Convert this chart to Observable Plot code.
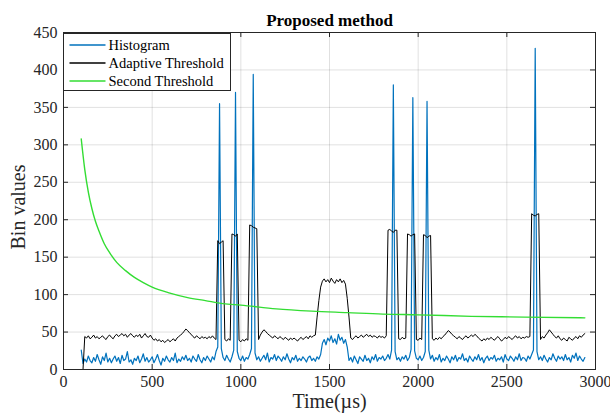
<!DOCTYPE html>
<html>
<head>
<meta charset="utf-8">
<script src="https://cdn.jsdelivr.net/npm/d3@7"></script>
<script src="https://cdn.jsdelivr.net/npm/@observablehq/plot@0.6"></script>
<style>
  html, body { margin: 0; padding: 0; background: #fff; }
  #chart svg, #chart svg text { font-family: 'Liberation Serif', 'Times New Roman', serif !important; }
</style>
</head>
<body>
<div id="chart"></div>
<script>
// ---- Data ----
const titleText = "Proposed method";
const xLabel = "Time(\u00b5s)";
const yLabel = "Bin values";
const seriesNames = ["Histogram", "Adaptive Threshold", "Second Threshold"];

const xTicks = [0, 500, 1000, 1500, 2000, 2500, 3000];
const yTicks = [0, 50, 100, 150, 200, 250, 300, 350, 400, 450];

// Histogram: sampled every 10 µs starting at 100 µs
const histStart = 100, histStep = 10;
const histValues = [
  26, 8, 14, 10, 18, 12, 9, 16, 11, 20,
  13, 7, 17, 12, 22, 10, 15, 9, 14, 18,
  11, 16, 8, 19, 12, 14, 24, 10, 13, 7,
  15, 12, 18, 9, 14, 21, 11, 16, 10, 13,
  17, 9, 14, 20, 12, 6, 15, 11, 18, 13,
  10, 16, 12, 22, 9, 14, 11, 17, 13, 19,
  12, 15, 10, 18, 14, 11, 20, 13, 9, 16,
  12, 18, 14, 10, 17, 13, 24, 30, 355, 28,
  16, 12, 19, 14, 10, 17, 26, 370, 24, 15,
  12, 18, 11, 16, 14, 20, 28, 394, 22, 13,
  17, 11, 15, 19, 13, 22, 10, 16, 14, 20,
  12, 18, 15, 11, 17, 13, 21, 14, 9, 16,
  13, 19, 11, 15, 12, 17, 14, 10, 16, 18,
  12, 15, 11, 17, 14, 20, 35, 40, 33, 42,
  38, 45, 36, 41, 34, 47, 39, 43, 35, 40,
  30, 12, 16, 10, 18, 13, 8, 17, 14, 11,
  19, 12, 15, 9, 17, 13, 20, 11, 16, 14,
  18, 12, 15, 20, 14, 26, 380, 24, 13, 16,
  11, 17, 14, 19, 12, 16, 27, 363, 25, 15,
  13, 18, 12, 16, 24, 358, 26, 14, 19, 11,
  16, 13, 20, 10, 15, 12, 18, 14, 9, 17,
  13, 19, 11, 16, 14, 21, 12, 15, 10, 18,
  14, 11, 17, 13, 20, 12, 16, 9, 15, 18,
  12, 16, 14, 19, 11, 15, 13, 17, 10, 20,
  14, 12, 18, 15, 11, 17, 13, 21, 12, 16,
  15, 11, 18, 14, 20, 26, 429, 24, 13, 17,
  12, 19, 14, 10, 16, 13, 21, 15, 11, 18,
  14, 17, 12, 20, 13, 16, 10, 19, 15, 22,
  12, 18, 14, 11, 16
];

// Adaptive threshold: sampled every 10 µs starting at 110 µs
const thrStart = 110, thrStep = 10;
const thrValues = [
  0, 44, 42, 45, 41, 43, 46, 42, 44,
  41, 43, 45, 42, 40, 44, 46, 43, 41, 45,
  47, 44, 46, 48, 45, 47, 43, 46, 48, 45,
  43, 46, 44, 47, 42, 45, 48, 44, 43, 46,
  42, 39, 41, 38, 40, 37, 39, 36, 38, 40,
  37, 39, 41, 38, 42, 44, 46, 48, 51, 54,
  52, 49, 47, 44, 42, 45, 43, 41, 44, 42,
  43, 41, 44, 42, 45, 42, 40, 172, 168, 170,
  172, 40, 38, 41, 39, 181, 180, 178, 181, 39,
  37, 40, 38, 41, 39, 193, 192, 190, 189, 188,
  40, 46, 50, 53, 51, 48, 46, 44, 42, 45,
  43, 41, 44, 42, 40, 43, 41, 39, 42, 40,
  42, 40, 38, 41, 43, 40, 42, 44, 41, 45,
  43, 45, 46, 70, 92, 110, 118, 121, 117, 120,
  116, 122, 118, 115, 120, 117, 121, 116, 119, 114,
  95, 70, 42, 40, 43, 45, 42, 44, 46, 43,
  45, 47, 44, 46, 43, 45, 44, 42, 45, 43,
  44, 42, 45, 186, 187, 185, 183, 186, 186, 41,
  40, 43, 41, 42, 181, 180, 178, 180, 181, 40,
  39, 42, 40, 180, 179, 176, 178, 179, 41, 39,
  42, 40, 43, 41, 44, 46, 49, 52, 50, 47,
  45, 43, 41, 44, 42, 40, 43, 45, 42, 44,
  46, 44, 47, 45, 42, 40, 38, 41, 39, 42,
  40, 43, 41, 39, 42, 44, 41, 38, 40, 43,
  41, 44, 42, 40, 43, 45, 42, 44, 41, 43,
  42, 44, 43, 44, 208, 206, 205, 207, 208, 40,
  44, 42, 46, 49, 53, 50, 47, 44, 42, 45,
  41, 39, 42, 40, 38, 43, 41, 39, 42, 44,
  41, 45, 43, 46, 48
];

// Second threshold: smooth decaying curve
const secondTimes  = [100, 120, 140, 160, 180, 200, 230, 260, 300, 350, 400, 450, 500, 600, 700, 800, 900, 1000, 1200, 1400, 1600, 1800, 2000, 2300, 2600, 2940];
const secondValues = [308, 267, 237, 215, 198, 185, 168, 156, 143, 132, 123, 116, 110, 102, 96, 92, 88, 86, 81, 78, 76, 74, 73, 71, 70, 69];

const colors = ["#0072BD", "#000000", "#33dd33"];

// ---- Build tables ----
const hist = histValues.map((v, i) => ({t: histStart + histStep * i, v}));
const thr = thrValues.map((v, i) => ({t: thrStart + thrStep * i, v}));
const second = secondTimes.map((t, i) => ({t, v: secondValues[i]}));

const W = 610, H = 416;
const mL = 63, mR = 15, mT = 32, mB = 47;
const plotW = W - mL - mR, plotH = H - mT - mB;
const font = "'Liberation Serif', 'Times New Roman', serif";
const axisColor = "#262626";

const chart = Plot.plot({
  width: W, height: H,
  marginLeft: mL, marginRight: mR, marginTop: mT, marginBottom: mB,
  style: {fontFamily: font, background: "#fff", color: axisColor},
  x: {domain: [0, 3000]},
  y: {domain: [0, 450]},
  marks: [
    Plot.gridX(xTicks, {stroke: "#000", strokeOpacity: 0.12}),
    Plot.gridY(yTicks, {stroke: "#000", strokeOpacity: 0.12}),
    Plot.line(hist, {x: "t", y: "v", stroke: colors[0], strokeWidth: 1.2}),
    Plot.line(thr, {x: "t", y: "v", stroke: colors[1], strokeWidth: 1}),
    Plot.line(second, {x: "t", y: "v", stroke: colors[2], strokeWidth: 1.4, curve: "monotone-x"}),
    Plot.frame({stroke: axisColor, strokeWidth: 1}),
    // inward ticks on all four sides
    Plot.ruleX(xTicks, {x: d => d, insetTop: plotH - 5, stroke: axisColor}),
    Plot.ruleX(xTicks, {x: d => d, insetBottom: plotH - 5, stroke: axisColor}),
    Plot.ruleY(yTicks, {y: d => d, insetRight: plotW - 5, stroke: axisColor}),
    Plot.ruleY(yTicks, {y: d => d, insetLeft: plotW - 5, stroke: axisColor}),
    Plot.axisX({ticks: xTicks, tickFormat: d => String(d), tickSize: 0, tickPadding: 6, fontSize: 16, label: null}),
    Plot.axisY({ticks: yTicks, tickFormat: d => String(d), tickSize: 0, tickPadding: 6, fontSize: 16, label: null}),
    Plot.text([xLabel], {frameAnchor: "bottom", dy: 38, fontSize: 20, fill: axisColor}),
    Plot.text([titleText], {frameAnchor: "top", dy: -19, fontSize: 17, fontWeight: "bold", fill: "#000"})
  ]
});

const svg = d3.select(chart);

// Y-axis title
svg.append("text")
  .attr("transform", "translate(25,207) rotate(-90)")
  .attr("text-anchor", "middle")
  .attr("font-size", 20)
  .attr("fill", axisColor)
  .text(yLabel);

// Legend (inside the axes, top-left)
const lg = svg.append("g").attr("transform", `translate(${mL + 0.5},${mT + 1.5})`)
  .attr("text-anchor", "start");
lg.append("rect").attr("x", 0).attr("y", 0).attr("width", 167).attr("height", 57)
  .attr("fill", "#fff").attr("stroke", axisColor).attr("stroke-width", 1);
seriesNames.forEach((name, i) => {
  const y = 11.5 + i * 18;
  lg.append("line").attr("x1", 6).attr("x2", 42).attr("y1", y).attr("y2", y)
    .attr("stroke", colors[i]).attr("stroke-width", 1.3);
  lg.append("text").attr("x", 45).attr("y", y + 4.5).text(name)
    .attr("text-anchor", "start")
    .attr("font-size", 14.5).attr("fill", "#000");
});

document.getElementById("chart").appendChild(chart);
</script>
</body>
</html>
